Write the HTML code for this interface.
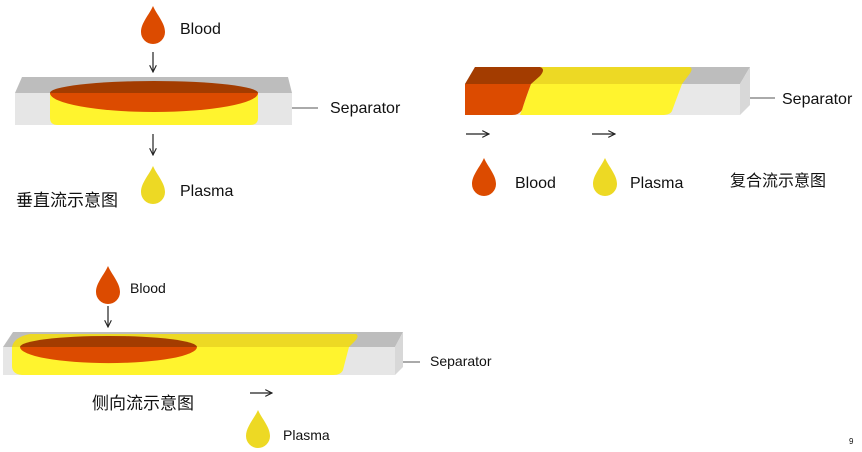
<!DOCTYPE html>
<html><head><meta charset="utf-8"><style>
body{margin:0;background:#fff}
svg{display:block}
text{font-family:"Liberation Sans","Noto Sans CJK SC",sans-serif;fill:#111}
</style></head><body>
<svg width="862" height="452" viewBox="0 0 862 452" xmlns="http://www.w3.org/2000/svg">
<defs>
<path id="drop" d="M0,-20 C4,-11 12,-3 12,6 A12,12 0 0 1 -12,6 C-12,-3 -4,-11 0,-20Z"/>
<marker id="ah" viewBox="0 0 10 10" refX="9" refY="5" markerWidth="7" markerHeight="7" orient="auto"><path d="M1,1 L9,5 L1,9" fill="none" stroke="#222" stroke-width="1.3"/></marker>
</defs>
<g stroke="#222" stroke-width="1.2" fill="none">
<line x1="153" y1="52" x2="153" y2="72" marker-end="url(#ah)"/>
<line x1="153" y1="134" x2="153" y2="155" marker-end="url(#ah)"/>
<line x1="466" y1="134" x2="489" y2="134" marker-end="url(#ah)"/>
<line x1="592" y1="134" x2="615" y2="134" marker-end="url(#ah)"/>
<line x1="108" y1="306" x2="108" y2="327" marker-end="url(#ah)"/>
<line x1="250" y1="393" x2="272" y2="393" marker-end="url(#ah)"/>
</g>
<g stroke="#555" stroke-width="1">
<line x1="286" y1="108" x2="318" y2="108"/>
<line x1="743" y1="98" x2="775" y2="98"/>
<line x1="392" y1="362" x2="420" y2="362"/>
</g>
<!-- diagram 1 -->
<polygon points="22,77 288,77 292,93 15,93" fill="#bdbdbd"/>
<rect x="15" y="93" width="277" height="32" fill="#e6e6e6"/>
<path d="M50,93 L258,93 L258,118 Q258,125 250,125 L58,125 Q50,125 50,118Z" fill="#fff42e"/>
<path d="M50,93 A104,12 0 0 1 258,93Z" fill="#a33c00"/>
<path d="M50,93 L258,93 A104,19 0 0 1 50,93Z" fill="#dc4b00"/>
<!-- diagram 2 -->
<polygon points="475,67 750,67 740,84 465,84" fill="#bdbdbd"/>
<polygon points="740,84 750,67 750,105 740,115" fill="#d8d8d8"/>
<rect x="465" y="84" width="275" height="31" fill="#e8e8e8"/>
<path d="M540,67 L690,67 Q694,69 688,76 L682,84 L531,84 Z" fill="#edd924"/>
<path d="M531,84 L682,84 Q676,100 672,111 Q670,115 662,115 L520,115 Z" fill="#fff42e"/>
<path d="M475,67 L540,67 Q546,69 540,76 L531,84 L465,84 Z" fill="#a33c00"/>
<path d="M465,84 L531,84 Q525,100 522,110 Q519,115 512,115 L465,115 Z" fill="#dc4b00"/>
<!-- diagram 3 -->
<polygon points="13,332 403,332 395,347 3,347" fill="#bdbdbd"/>
<polygon points="395,347 403,332 403,367 395,375" fill="#d8d8d8"/>
<rect x="3" y="347" width="392" height="28" fill="#e6e6e6"/>
<path d="M30,334 L356,334 Q360,336 354,342 L349,347 L12,347 Q14,337 30,334Z" fill="#edd924"/>
<path d="M12,347 L349,347 Q345,362 343,370 Q341,375 333,375 L22,375 Q12,374 12,366Z" fill="#fff42e"/>
<path d="M20,347 A88,11 0 0 1 197,347Z" fill="#a33c00"/>
<path d="M20,347 L197,347 A88,16 0 0 1 20,347Z" fill="#dc4b00"/>
<!-- drops -->
<use href="#drop" x="153" y="26" fill="#dc4b00"/>
<use href="#drop" x="153" y="186" fill="#edd924"/>
<use href="#drop" x="484" y="178" fill="#dc4b00"/>
<use href="#drop" x="605" y="178" fill="#edd924"/>
<use href="#drop" x="108" y="286" fill="#dc4b00"/>
<use href="#drop" x="258" y="430" fill="#edd924"/>
<!-- text -->
<text x="180" y="34" font-size="16">Blood</text>
<text x="330" y="113" font-size="16">Separator</text>
<text x="180" y="196" font-size="16">Plasma</text>
<text x="16" y="206" font-size="17">垂直流示意图</text>
<text x="782" y="104" font-size="16">Separator</text>
<text x="515" y="188" font-size="16">Blood</text>
<text x="630" y="188" font-size="16">Plasma</text>
<text x="730" y="186" font-size="16">复合流示意图</text>
<text x="130" y="293" font-size="14">Blood</text>
<text x="430" y="366" font-size="14">Separator</text>
<text x="92" y="409" font-size="17">侧向流示意图</text>
<text x="283" y="440" font-size="14">Plasma</text>
<text x="849" y="444" font-size="8">9</text>
</svg>
</body></html>
